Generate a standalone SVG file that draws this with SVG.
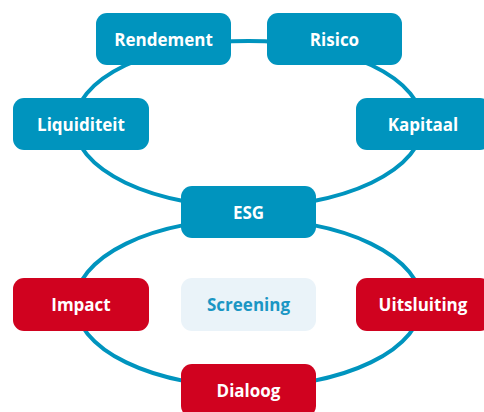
<svg xmlns="http://www.w3.org/2000/svg" width="484" height="412" viewBox="0 0 484 412">
<style>
.ring{fill:none;stroke:#0094BE;stroke-width:4}
.blue{fill:#0094BE}
.red{fill:#D0021F}
.light{fill:#EAF3F9}
.t{font-family:"Open Sans","Noto Sans",sans-serif;font-weight:bold;font-size:17px;text-anchor:middle;fill:#fff}
.tb{fill:#1A96C4}
</style>
<rect width="484" height="412" fill="#fff"/>
<g id="connectors">
<ellipse class="ring" cx="248.5" cy="124" rx="174" ry="83"/>
<ellipse class="ring" cx="248.5" cy="303" rx="173" ry="84"/>
</g>
<g id="rendement"><rect class="blue" x="96" y="13" width="135" height="52" rx="11"/><text class="t" x="163.5" y="45.5">Rendement</text></g>
<g id="risico"><rect class="blue" x="267" y="13" width="135" height="52" rx="11"/><text class="t" x="334.5" y="45.5">Risico</text></g>
<g id="liquiditeit"><rect class="blue" x="13" y="98" width="136" height="52" rx="11"/><text class="t" x="81" y="130.5">Liquiditeit</text></g>
<g id="kapitaal"><rect class="blue" x="356" y="98" width="135" height="52" rx="11"/><text class="t" x="423" y="130.5">Kapitaal</text></g>
<g id="esg"><rect class="blue" x="181" y="186" width="135" height="52" rx="11"/><text class="t" x="248.5" y="218.5">ESG</text></g>
<g id="impact"><rect class="red" x="13" y="278" width="136" height="53" rx="11"/><text class="t" x="81" y="311">Impact</text></g>
<g id="screening"><rect class="light" x="181" y="278" width="135" height="53" rx="11"/><text class="t tb" x="248.5" y="311">Screening</text></g>
<g id="uitsluiting"><rect class="red" x="356" y="278" width="135" height="53" rx="11"/><text class="t" x="423" y="311">Uitsluiting</text></g>
<g id="dialoog"><rect class="red" x="181" y="364" width="135" height="53" rx="11"/><text class="t" x="248.5" y="397">Dialoog</text></g>
</svg>
